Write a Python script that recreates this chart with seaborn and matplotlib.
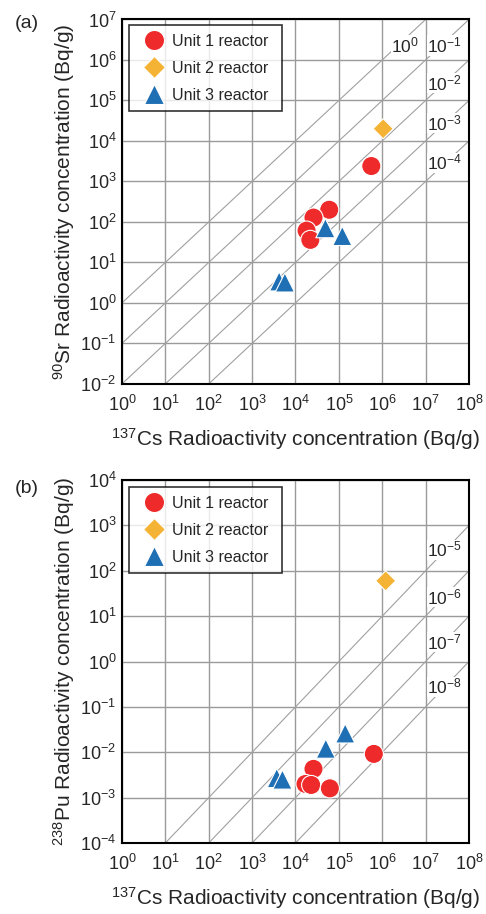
import numpy as np
import pandas as pd
import matplotlib
matplotlib.use("Agg")
import matplotlib.pyplot as plt
import seaborn as sns
from matplotlib.ticker import LogLocator, LogFormatterMathtext, NullLocator

# DATA
units = ["Unit 1 reactor", "Unit 2 reactor", "Unit 3 reactor"]
colors = ["#EE2A2A", "#F5B335", "#1F6FB5"]
markers = ["o", "D", "^"]
msizes = [190, 105, 190]

# panel (a) Sr-90 vs Cs-137
sr_unit = ["Unit 1 reactor"] * 5 + ["Unit 2 reactor"] + ["Unit 3 reactor"] * 4
sr_cs = [5.6e5, 6.0e4, 2.6e4, 1.8e4, 2.2e4, 1.05e6, 4.9e4, 1.2e5, 4.2e3, 5.7e3]
sr_val = [2.4e3, 200, 128, 61, 36, 2.0e4, 70, 45, 3.4, 3.2]
sr_ratios = [1e0, 1e-1, 1e-2, 1e-3, 1e-4]
sr_labels = ["$10^{0}$", "$10^{-1}$", "$10^{-2}$", "$10^{-3}$", "$10^{-4}$"]

# panel (b) Pu-238 vs Cs-137
pu_unit = ["Unit 1 reactor"] * 5 + ["Unit 2 reactor"] + ["Unit 3 reactor"] * 4
pu_cs = [6.4e5, 2.6e4, 1.7e4, 2.3e4, 6.2e4, 1.2e6, 1.4e5, 5.0e4, 3.7e3, 5.0e3]
pu_val = [9.2e-3, 4.3e-3, 2.0e-3, 1.9e-3, 1.6e-3, 60, 0.026, 0.012, 2.7e-3, 2.5e-3]
pu_ratios = [1e-5, 1e-6, 1e-7, 1e-8]
pu_labels = ["$10^{-5}$", "$10^{-6}$", "$10^{-7}$", "$10^{-8}$"]

sns.set_style("white")
plt.rcParams["font.family"] = ["Liberation Sans", "DejaVu Sans"]
plt.rcParams["mathtext.fontset"] = "custom"
plt.rcParams["mathtext.rm"] = "Liberation Sans"
plt.rcParams["mathtext.it"] = "Liberation Sans:italic"
plt.rcParams["mathtext.bf"] = "Liberation Sans:bold"

palette = dict(zip(units, colors))
mk = dict(zip(units, markers))
sz = dict(zip(units, msizes))

fig = plt.figure(figsize=(4.86, 9.14), dpi=100)
ax1 = fig.add_axes([0.251, 0.580, 0.714, 0.3987])
ax2 = fig.add_axes([0.251, 0.0777, 0.714, 0.3971])


def panel(ax, cs, val, unit, ymin, ymax, ratios, labels, label_pos, ylab, legtop):
    df = pd.DataFrame({"cs": cs, "val": val, "unit": unit})
    ax.set_xscale("log")
    ax.set_yscale("log")
    ax.set_xlim(1e0, 1e8)
    ax.set_ylim(ymin, ymax)
    xs = np.array([1e-1, 1e9])
    for r in ratios:
        ax.plot(xs, xs * r, color="#a0a0a0", lw=0.8, zorder=1)
    for (lx, ly), lab in zip(label_pos, labels):
        ax.text(10 ** lx, 10 ** ly, lab, fontsize=12.5, ha="center", va="center", zorder=2,
                bbox=dict(facecolor="white", edgecolor="none", pad=0.3))
    sns.scatterplot(data=df, x="cs", y="val", hue="unit", style="unit", size="unit",
                    hue_order=units, style_order=units, size_order=units,
                    palette=palette, markers=mk, sizes=sz,
                    edgecolor="white", linewidth=0.8, ax=ax, zorder=3)
    ax.xaxis.set_major_locator(LogLocator(base=10, numticks=20))
    ax.yaxis.set_major_locator(LogLocator(base=10, numticks=20))
    ax.xaxis.set_minor_locator(NullLocator())
    ax.yaxis.set_minor_locator(NullLocator())
    ax.xaxis.set_major_formatter(LogFormatterMathtext())
    ax.yaxis.set_major_formatter(LogFormatterMathtext())
    ax.grid(True, which="major", color="#9a9a9a", lw=1.0)
    ax.set_axisbelow(True)
    ax.tick_params(length=0, labelsize=13)
    ax.tick_params(axis="x", pad=8)
    ax.tick_params(axis="y", pad=4)
    for sp in ax.spines.values():
        sp.set_color("black")
        sp.set_linewidth(1.5)
    ax.set_xlabel("$^{137}$Cs Radioactivity concentration (Bq/g)", fontsize=15)
    ax.set_ylabel(ylab, fontsize=15)
    ax.xaxis.set_label_coords(0.5, -0.115)
    ax.yaxis.set_label_coords(-0.13, 0.5)
    leg = ax.legend(loc="upper left", bbox_to_anchor=(0.02, 0.0, 0.441, legtop),
                    mode="expand", frameon=True, fancybox=False, edgecolor="black",
                    fontsize=11.5, markerscale=1.05, borderpad=0.55, labelspacing=0.75,
                    handletextpad=0.15, handlelength=2.0, borderaxespad=0.0)
    leg.get_frame().set_linewidth(1.2)
    leg.set_zorder(5)


panel(ax1, sr_cs, sr_val, sr_unit, 1e-2, 1e7, sr_ratios, sr_labels,
      [(6.52, 6.35), (7.44, 6.35), (7.44, 5.43), (7.44, 4.44), (7.44, 3.46)],
      "$^{90}$Sr Radioactivity concentration (Bq/g)", 0.985)
panel(ax2, pu_cs, pu_val, pu_unit, 1e-4, 1e4, pu_ratios, pu_labels,
      [(7.44, 2.46), (7.44, 1.42), (7.44, 0.43), (7.44, -0.56)],
      "$^{238}$Pu Radioactivity concentration (Bq/g)", 0.981)

fig.text(0.03, 1 - 24 / 914, "(a)", fontsize=14, ha="left", va="center")
fig.text(0.03, 1 - 488 / 914, "(b)", fontsize=14, ha="left", va="center")

fig.savefig("out.png", dpi=100)
